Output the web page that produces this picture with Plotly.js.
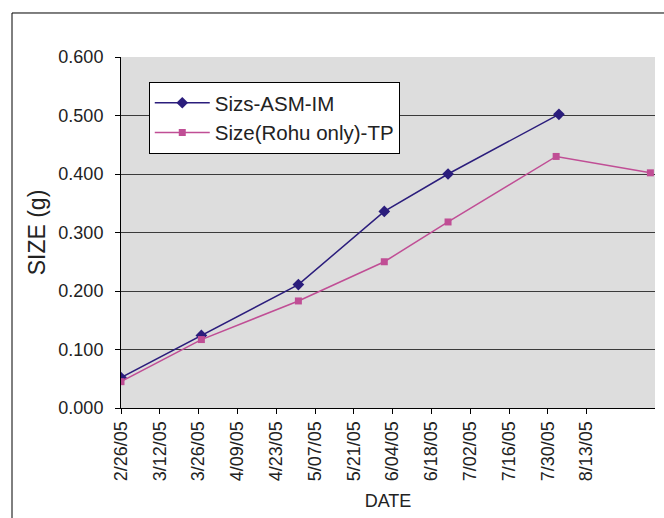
<!DOCTYPE html>
<html>
<head>
<meta charset="utf-8">
<script src="https://cdn.plot.ly/plotly-3.0.1.min.js"></script>
<style>
html,body{margin:0;padding:0;background:#fff;}
#chart{width:664px;height:518px;}
</style>
</head>
<body>
<div id="chart"></div>
<script>
// Data
const seriesNames = ['Sizs-ASM-IM', 'Size(Rohu only)-TP'];
const asmDates = ['2005-02-26', '2005-03-27', '2005-05-01', '2005-06-01', '2005-06-24', '2005-08-03'];
const asmSize = [0.052, 0.124, 0.211, 0.336, 0.400, 0.502];
const rohuDates = ['2005-02-26', '2005-03-27', '2005-05-01', '2005-06-01', '2005-06-24', '2005-08-02', '2005-09-05'];
const rohuSize = [0.045, 0.117, 0.183, 0.250, 0.318, 0.430, 0.402];
const tickDates = ['2005-02-26', '2005-03-12', '2005-03-26', '2005-04-09', '2005-04-23', '2005-05-07', '2005-05-21',
                   '2005-06-04', '2005-06-18', '2005-07-02', '2005-07-16', '2005-07-30', '2005-08-13'];
const tickLabels = ['2/26/05', '3/12/05', '3/26/05', '4/09/05', '4/23/05', '5/07/05', '5/21/05',
                    '6/04/05', '6/18/05', '7/02/05', '7/16/05', '7/30/05', '8/13/05'];

const FONT = 'Liberation Sans, Arial, sans-serif';

const traces = [
  {
    x: asmDates, y: asmSize, name: seriesNames[0], type: 'scatter', mode: 'lines+markers',
    line: {color: '#2B1D7C', width: 1.5},
    marker: {symbol: 'diamond', size: 9, color: '#2B1D7C'}
  },
  {
    x: rohuDates, y: rohuSize, name: seriesNames[1], type: 'scatter', mode: 'lines+markers',
    line: {color: '#C04E95', width: 1.5},
    marker: {symbol: 'square', size: 7, color: '#C04E95'}
  }
];

const layout = {
  width: 664, height: 518,
  margin: {l: 121, r: 9, t: 57, b: 110},
  paper_bgcolor: '#ffffff',
  plot_bgcolor: '#DDDDDD',
  font: {family: FONT, color: '#222'},
  showlegend: true,
  legend: {
    x: 0.052, y: 0.929, xanchor: 'left', yanchor: 'top',
    bgcolor: '#ffffff', bordercolor: '#000000', borderwidth: 1,
    font: {family: FONT, size: 20.5, color: '#222'},
    itemwidth: 55, tracegroupgap: 0
  },
  xaxis: {
    type: 'date',
    range: ['2005-02-26', '2005-09-06 16:00'],
    tickmode: 'array', tickvals: tickDates, ticktext: tickLabels,
    tickangle: -90,
    tickfont: {family: FONT, size: 18, color: '#222'},
    ticks: 'outside', ticklen: 5, tickcolor: '#000', tickwidth: 1,
    showgrid: false, zeroline: false,
    showline: true, linecolor: '#000', linewidth: 1,
    title: {text: 'DATE', font: {family: FONT, size: 18, color: '#222'}, standoff: 14}
  },
  yaxis: {
    range: [0, 0.6], dtick: 0.1, tick0: 0, tickformat: '.3f',
    tickfont: {family: FONT, size: 18, color: '#222'},
    ticks: 'outside', ticklen: 5, tickcolor: '#000', tickwidth: 1,
    ticklabelstandoff: 8,
    showgrid: true, gridcolor: '#3a3a3a', gridwidth: 1,
    zeroline: false,
    showline: true, linecolor: '#000', linewidth: 1,
    title: {text: 'SIZE (g)', font: {family: FONT, size: 23, color: '#222'}, standoff: 6}
  },
  shapes: [
    {type: 'line', xref: 'paper', yref: 'paper', x0: -0.2041, x1: -0.2041, y0: -0.5, y1: 1.1254,
     line: {color: '#000', width: 1}},
    {type: 'line', xref: 'paper', yref: 'paper', x0: -0.2041, x1: 1.2, y0: 1.1254, y1: 1.1254,
     line: {color: '#000', width: 1}}
  ]
};

Plotly.newPlot('chart', traces, layout, {displayModeBar: false, staticPlot: true});
</script>
</body>
</html>
